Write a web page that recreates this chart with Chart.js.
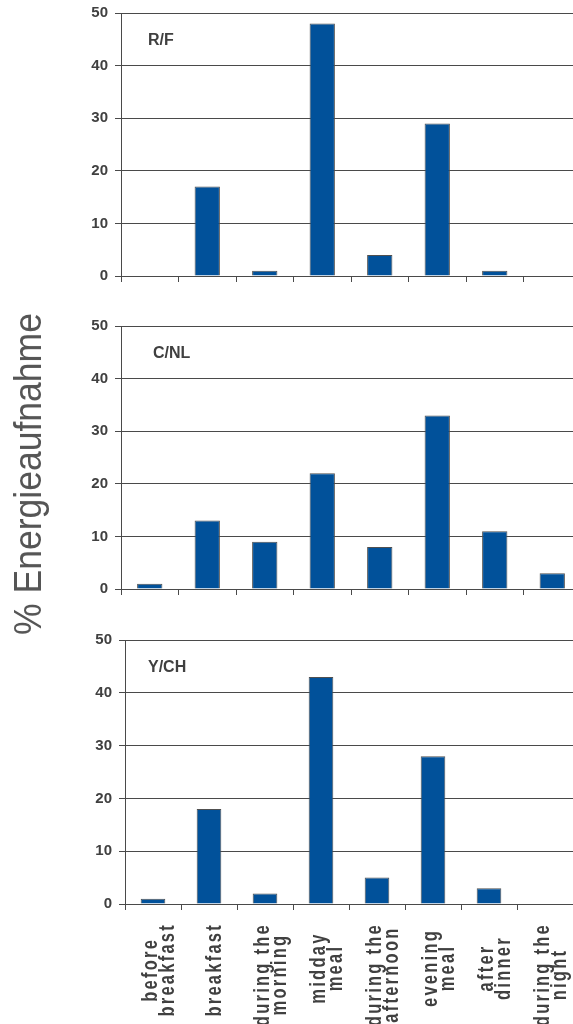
<!DOCTYPE html>
<html>
<head>
<meta charset="utf-8">
<script src="https://cdn.jsdelivr.net/npm/chart.js@4.4.1/dist/chart.umd.min.js"></script>
<style>
  html, body { margin: 0; padding: 0; background: #fff; overflow: hidden; width: 573px; height: 1024px; }
  canvas { position: absolute; left: 0; }
  #c1 { top: 0; }
  #c2 { top: 313px; }
  #c3 { top: 627px; }
  #ytitle {
    position: absolute; left: 28px; top: 474px;
    transform: translate(-50%, -50%) rotate(-90deg) scaleX(0.935);
    font: 38px "Liberation Sans", Arial, sans-serif; color: #555;
    white-space: nowrap; line-height: 1;
  }
</style>
</head>
<body>
<canvas id="c1" width="581" height="290"></canvas>
<canvas id="c2" width="581" height="290"></canvas>
<canvas id="c3" width="573" height="397"></canvas>
<div id="ytitle">% Energieaufnahme</div>
<script>
// Meal occasions (each entry is the lines of one axis label)
const categories = [
  ["before", "breakfast"],
  ["breakfast"],
  ["during the", "morning"],
  ["midday", "meal"],
  ["during the", "afternoon"],
  ["evening", "meal"],
  ["after", "dinner"],
  ["during the", "night"]
];
// Share of daily energy intake (%) per occasion
const rfValues  = [0, 17, 1, 48, 4, 29, 1, 0];
const cnlValues = [1, 13, 9, 22, 8, 33, 11, 3];
const ychValues = [1, 18, 2, 43, 5, 28, 3, 0];
// Value axis
const yTicks = [0, 10, 20, 30, 40, 50];
const panelNames = ["R/F", "C/NL", "Y/CH"];

const AXIS_GREY = '#4a4a4a';
const TEXT_GREY = '#404040';
const BAR_BLUE = '#01519a';

// Panel name printed in the upper-left of the plot area
const panelNamePlugin = {
  id: 'panelName',
  afterDraw(chart, args, opts) {
    const { ctx, chartArea } = chart;
    ctx.save();
    ctx.fillStyle = TEXT_GREY;
    ctx.font = 'bold 16px "Liberation Sans", Arial, sans-serif';
    ctx.textAlign = 'left';
    ctx.textBaseline = 'middle';
    ctx.fillText(opts.text, chartArea.left + opts.dx, chartArea.top + opts.dy);
    ctx.restore();
  }
};

// Vertical, multi-line category labels under the bottom panel
const rotatedLabelsPlugin = {
  id: 'rotatedLabels',
  afterDraw(chart, args, opts) {
    if (!opts.show) return;
    const { ctx, chartArea } = chart;
    const xScale = chart.scales.x;
    const squeeze = 0.75;
    const pitch = 17;
    ctx.save();
    ctx.fillStyle = TEXT_GREY;
    ctx.font = 'bold 22px "Liberation Sans", Arial, sans-serif';
    if ('letterSpacing' in ctx) ctx.letterSpacing = '3px';
    ctx.textAlign = 'center';
    ctx.textBaseline = 'alphabetic';
    chart.data.labels.forEach((lines, i) => {
      const x = xScale.getPixelForValue(i);
      const longest = Math.max(...lines.map(l => ctx.measureText(l).width)) * squeeze;
      const yc = chartArea.bottom + 19 + Math.max(longest, 90) / 2;
      lines.forEach((line, j) => {
        const base = x + 12 + (j - (lines.length - 1) / 2) * pitch;
        ctx.save();
        ctx.translate(base, yc);
        ctx.rotate(-Math.PI / 2);
        ctx.scale(squeeze, 1);
        ctx.fillText(line, 0, 0);
        ctx.restore();
      });
    });
    ctx.restore();
  }
};

function makePanel(id, values, name, axisX, nameDx, padBottom, showLabels) {
  return new Chart(document.getElementById(id), {
    type: 'bar',
    data: {
      labels: categories,
      datasets: [{
        data: values,
        backgroundColor: BAR_BLUE,
        borderColor: '#505050',
        borderWidth: 1,
        barPercentage: 0.44,
        categoryPercentage: 1
      }]
    },
    options: {
      responsive: false,
      animation: false,
      devicePixelRatio: 1,
      layout: { padding: { top: 13, right: 0, bottom: padBottom, left: 0 } },
      plugins: {
        legend: { display: false },
        tooltip: { enabled: false },
        panelName: { text: name, dx: nameDx, dy: 28 },
        rotatedLabels: { show: showLabels }
      },
      scales: {
        x: {
          type: 'category',
          offset: true,
          grid: { display: true, offset: true, drawOnChartArea: false, drawTicks: true, tickLength: 6, color: AXIS_GREY, lineWidth: 1 },
          border: { display: true, color: AXIS_GREY, width: 1 },
          ticks: { display: false }
        },
        y: {
          min: yTicks[0],
          max: yTicks[yTicks.length - 1],
          afterBuildTicks: (axis) => { axis.ticks = yTicks.map(v => ({ value: v })); },
          afterFit: (axis) => {
            axis.width = axisX;
            // the outer layout padding already leaves room for the end labels
            axis.paddingTop = 0;
            axis.paddingBottom = 0;
          },
          grid: { color: AXIS_GREY, lineWidth: 1, tickLength: 6, drawTicks: true },
          border: { display: true, color: AXIS_GREY, width: 1 },
          ticks: {
            color: TEXT_GREY,
            padding: 7,
            font: { family: '"Liberation Sans", Arial, sans-serif', size: 15, weight: 'bold' }
          }
        }
      }
    },
    plugins: [panelNamePlugin, rotatedLabelsPlugin]
  });
}

makePanel('c1', rfValues, panelNames[0], 121, 27, 8, false);
makePanel('c2', cnlValues, panelNames[1], 121, 32, 8, false);
makePanel('c3', ychValues, panelNames[2], 125, 23, 114, true);
</script>
</body>
</html>
